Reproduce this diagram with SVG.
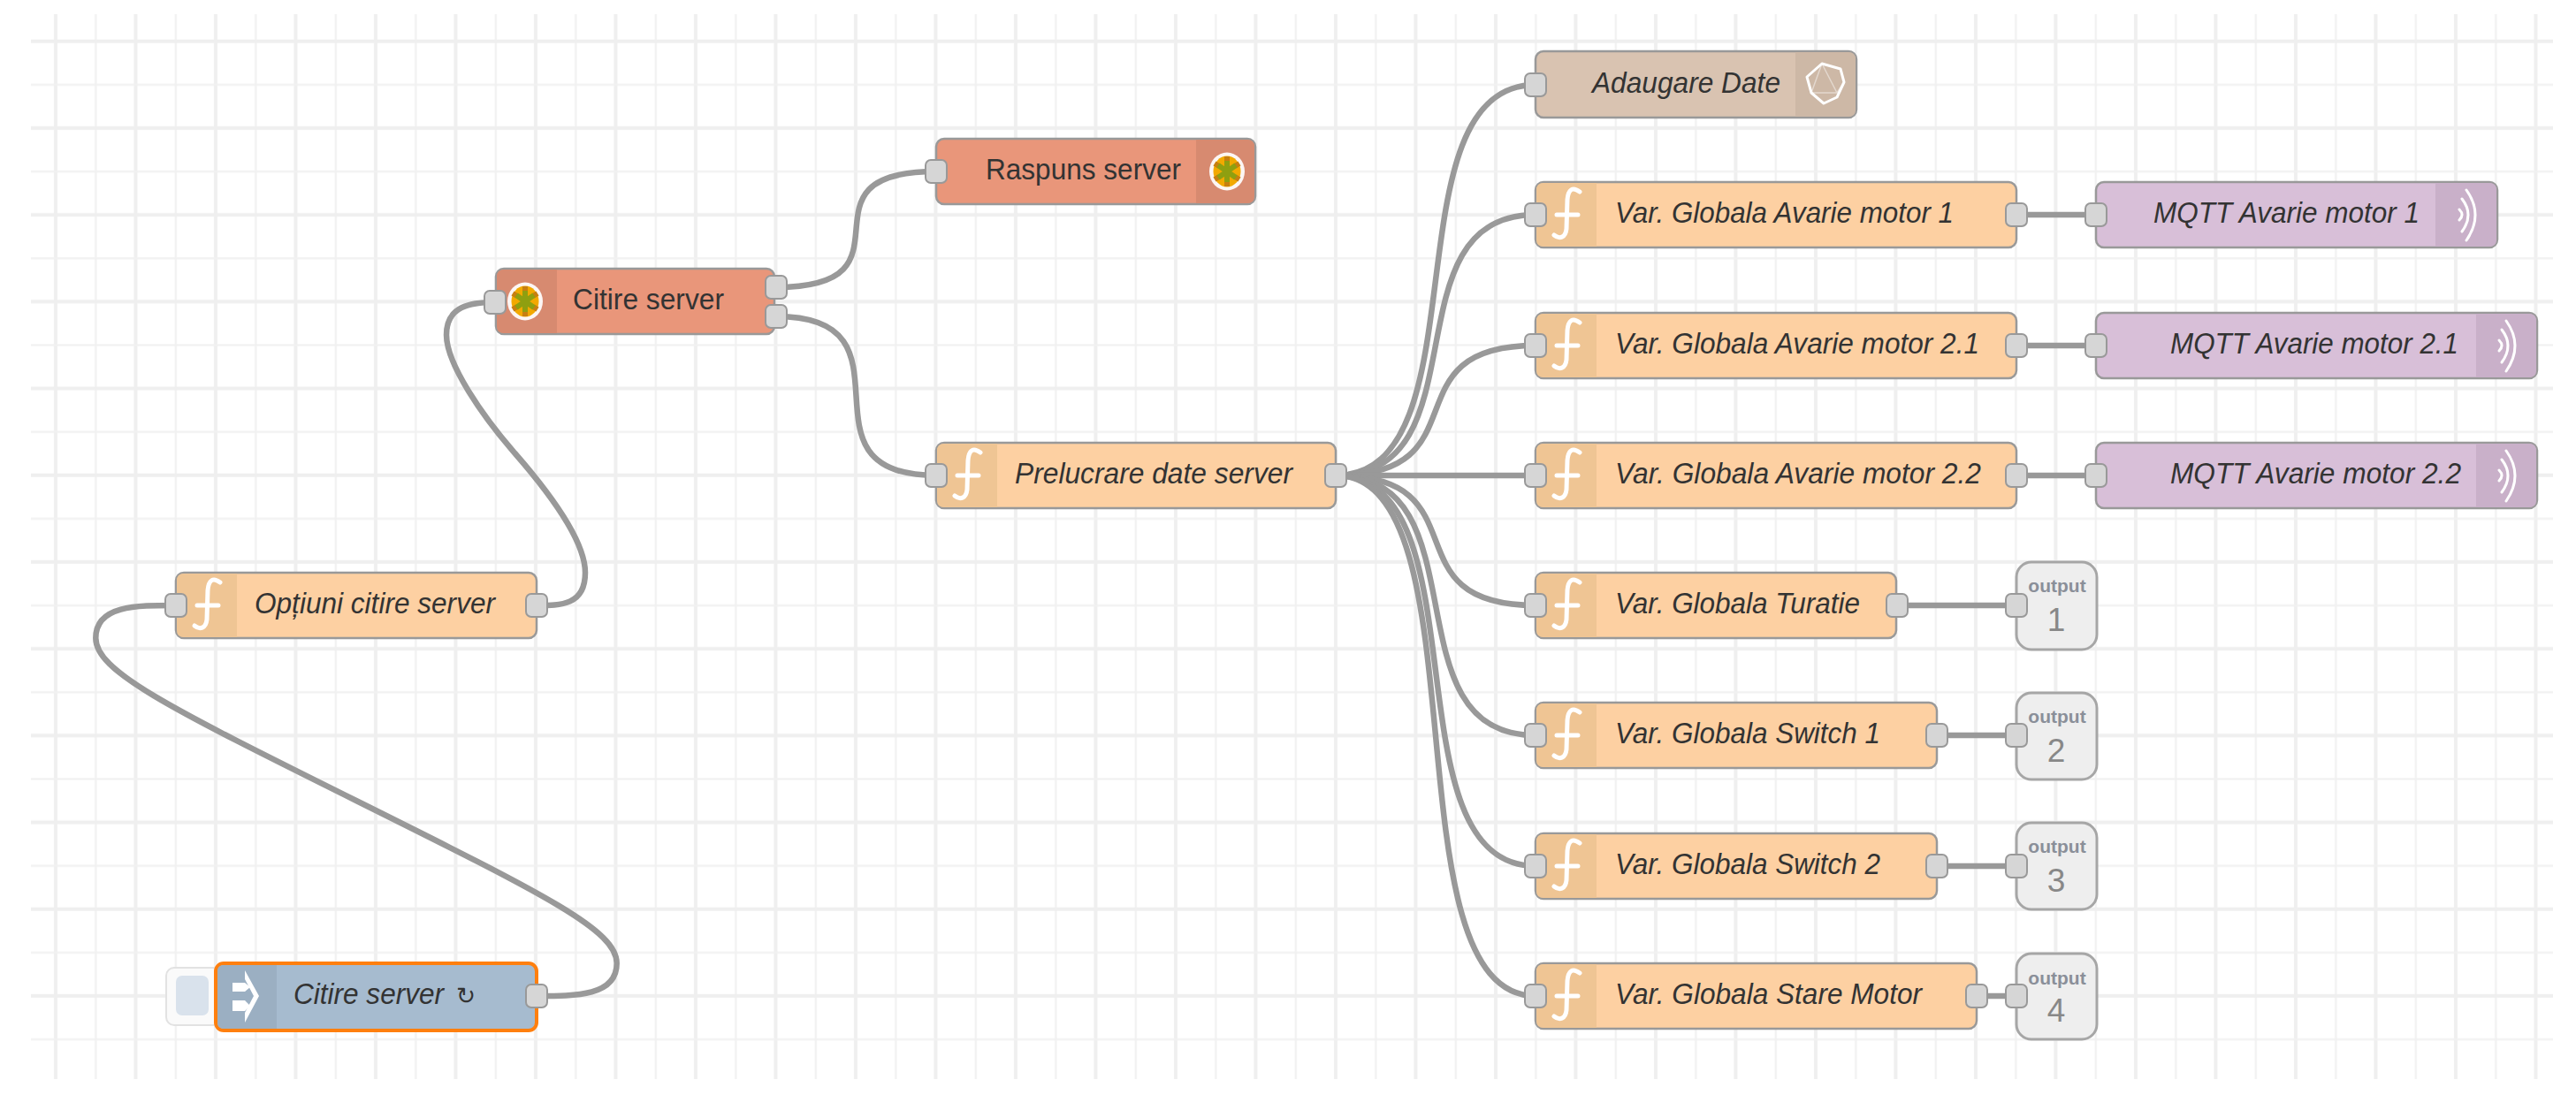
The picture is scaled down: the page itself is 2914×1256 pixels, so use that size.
<svg xmlns="http://www.w3.org/2000/svg" width="2914" height="1256" viewBox="0 0 2914 1256">
<style>
.n{stroke:#999;stroke-width:2.5}
.fn{fill:#fdd0a2}.http{fill:#e9967a}.db{fill:#d9c3b1}.mq{fill:#d8bfd8}.inj{fill:#a6bbcf}
.tab{stroke:none}
.p{fill:#d6d6d6;stroke:#999;stroke-width:2}
.w{fill:none;stroke:#999;stroke-width:6.5;stroke-linecap:round}
.t{font-family:"Liberation Sans",Arial,sans-serif;font-size:33px;fill:#333}
.i{font-style:italic}
.ol{font-family:"Liberation Sans",Arial,sans-serif;font-size:21px;font-weight:bold;fill:#8a8f99;text-anchor:middle}
.on{font-family:"Liberation Sans",Arial,sans-serif;font-size:37px;fill:#888;text-anchor:middle}
.out{fill:#eee;stroke:#a6a6a6;stroke-width:3}
.ic{fill:none;stroke:#fff;stroke-linecap:round;stroke-linejoin:round}
</style>
<defs>
<pattern id="grid" patternUnits="userSpaceOnUse" x="45" y="30" width="90.5" height="98.2">
<rect x="16" y="0" width="4" height="98.2" fill="#efefef"/>
<rect x="62.2" y="0" width="2.2" height="98.2" fill="#f1f1f1"/>
<rect x="0" y="14.7" width="90.5" height="4" fill="#efefef"/>
<rect x="0" y="64.8" width="90.5" height="2.2" fill="#f1f1f1"/>
</pattern>
<g id="fnIcon">
<path class="tab" fill="#efc594" d="M9,1H69V73H9Q1,73 1,65V9Q1,1 9,1Z"/>
<path class="ic" stroke-width="5" d="M50,11C42,5 37,8 36,20L35,53C34,63 27,65 21,60M24,37H48"/>
</g>
<g id="mqIcon">
<path class="ic" stroke-width="3" d="M0,-28Q20,0 0,29M-5,-18Q9,0 -5,19M-8,-6Q-2,0 -8,6"/>
</g>
<g id="httpIcon">
<ellipse rx="20" ry="21.5" fill="#fff" fill-opacity=".92"/>
<ellipse rx="15.5" ry="17.5" fill="#f2a900"/>
<path fill="none" stroke="#c77f10" stroke-width="6" d="M0,-17V-11M0,11V17M-14,-9L-9,-6M14,9L9,6M-14,9L-9,6M14,-9L9,-6"/>
<path fill="none" stroke="#8f9f10" stroke-width="6" d="M0,-12V12M-10,-7L10,7M-10,7L10,-7"/>
</g>
</defs>
<rect width="2914" height="1256" fill="#fff"/>
<rect x="35" y="16" width="2853" height="1205" fill="url(#grid)"/>

<g id="connectors">
<path class="w" d="M607,1127C652,1127 697.7,1127 697.7,1090S620,1014 403,906S108.3,759 108.3,722S153.6,685 199,685"/>
<path class="w" d="M607,685C634.5,685 662,685 662,648S620,556 583,513.5S505,412 505,379S532.5,342 560,342"/>
<path class="w" d="M878,325C1048,325 889,194 1059,194"/>
<path class="w" d="M878,358C1048,358 889,538 1059,538"/>
<path class="w" d="M1511,538C1681,538 1567,96 1737,96"/>
<path class="w" d="M1511,538C1681,538 1567,243 1737,243"/>
<path class="w" d="M1511,538C1681,538 1567,391 1737,391"/>
<path class="w" d="M1511,538H1737"/>
<path class="w" d="M1511,538C1681,538 1567,685 1737,685"/>
<path class="w" d="M1511,538C1681,538 1567,832 1737,832"/>
<path class="w" d="M1511,538C1681,538 1567,980 1737,980"/>
<path class="w" d="M1511,538C1681,538 1567,1127 1737,1127"/>
<path class="w" d="M2281,243H2371"/>
<path class="w" d="M2281,391H2371"/>
<path class="w" d="M2281,538H2371"/>
<path class="w" d="M2146,685H2281"/>
<path class="w" d="M2191,832H2281"/>
<path class="w" d="M2191,980H2281"/>
<path class="w" d="M2236,1127H2281"/>
</g>

<g id="inject-citire">
<rect x="188" y="1095" width="62" height="65" rx="9" fill="#fafafa" stroke="#e2e2e2" stroke-width="2"/>
<rect x="199" y="1104" width="37" height="45" rx="7" fill="#d9e2ec"/>
<rect x="244" y="1090" width="363" height="76" rx="9" class="inj" stroke="#ff7f0e" stroke-width="4"/>
<path class="tab" fill="#9bafc2" d="M253,1092H313V1164H253Q246,1164 246,1157V1099Q246,1092 253,1092Z"/>
<path fill="#fff" d="M263,1112H277V1122H263ZM263,1132H277V1144H263ZM277,1098L293,1127L277,1157V1146L287,1127L277,1108Z"/>
<path fill="#fff" d="M277,1112L283,1117L277,1122ZM277,1132L283,1138L277,1144Z"/>
<text class="t i" x="332" y="1136" textLength="170" lengthAdjust="spacingAndGlyphs">Citire server</text>
<text class="i" x="516" y="1136" font-family="'DejaVu Sans',sans-serif" font-size="27" fill="#333" textLength="22" lengthAdjust="spacingAndGlyphs">↻</text>
<rect class="p" x="595" y="1114" width="24" height="26" rx="6"/>
</g>

<g id="fn-optiuni">
<rect class="n fn" x="199" y="648" width="408" height="74" rx="9"/>
<use href="#fnIcon" transform="translate(199,648)"/>
<text class="t i" x="288" y="694" textLength="272" lengthAdjust="spacingAndGlyphs">Opțiuni citire server</text>
<rect class="p" x="187" y="672" width="24" height="26" rx="6"/>
<rect class="p" x="595" y="672" width="24" height="26" rx="6"/>
</g>

<g id="http-citire">
<rect class="n http" x="561" y="304" width="315" height="74" rx="9"/>
<path class="tab" fill="#d78a70" d="M570,305H630V377H570Q562,377 562,369V313Q562,305 570,305Z"/>
<use href="#httpIcon" x="594" y="341"/>
<text class="t" x="648" y="350" textLength="171" lengthAdjust="spacingAndGlyphs">Citire server</text>
<rect class="p" x="548" y="329" width="24" height="26" rx="6"/>
<rect class="p" x="866" y="312" width="24" height="26" rx="6"/>
<rect class="p" x="866" y="345" width="24" height="26" rx="6"/>
</g>

<g id="http-raspuns">
<rect class="n http" x="1059" y="157" width="361" height="74" rx="9"/>
<path class="tab" fill="#d78a70" d="M1353,158H1411Q1419,158 1419,166V222Q1419,230 1411,230H1353Z"/>
<use href="#httpIcon" x="1388" y="194"/>
<text class="t" x="1115" y="203" textLength="221" lengthAdjust="spacingAndGlyphs">Raspuns server</text>
<rect class="p" x="1047" y="181" width="24" height="26" rx="6"/>
</g>

<g id="fn-prelucrare">
<rect class="n fn" x="1059" y="501" width="452" height="74" rx="9"/>
<use href="#fnIcon" transform="translate(1059,501)"/>
<text class="t i" x="1148" y="547" textLength="314" lengthAdjust="spacingAndGlyphs">Prelucrare date server</text>
<rect class="p" x="1047" y="525" width="24" height="26" rx="6"/>
<rect class="p" x="1499" y="525" width="24" height="26" rx="6"/>
</g>

<g id="db-adaugare">
<rect class="n db" x="1737" y="58" width="363" height="75" rx="9"/>
<path class="tab" fill="#cdb8a6" d="M2031,59H2091Q2099,59 2099,67V124Q2099,132 2091,132H2031Z"/>
<path class="ic" stroke-width="3" d="M2061,72L2082,78L2086,93L2078,110L2063,117L2049,105L2044,87Z"/>
<path class="ic" stroke-width="1.5" opacity=".45" d="M2061,72L2049,105H2078L2061,72M2078,105L2086,93"/>
<text class="t i" x="1801" y="105" textLength="213" lengthAdjust="spacingAndGlyphs">Adaugare Date</text>
<rect class="p" x="1725" y="83" width="24" height="26" rx="6"/>
</g>

<g id="fn-var1">
<rect class="n fn" x="1737" y="206" width="544" height="74" rx="9"/>
<use href="#fnIcon" transform="translate(1737,206)"/>
<text class="t i" x="1827" y="252" textLength="383" lengthAdjust="spacingAndGlyphs">Var. Globala Avarie motor 1</text>
<rect class="p" x="1725" y="230" width="24" height="26" rx="6"/>
<rect class="p" x="2269" y="230" width="24" height="26" rx="6"/>
</g>
<g id="fn-var21">
<rect class="n fn" x="1737" y="354" width="544" height="74" rx="9"/>
<use href="#fnIcon" transform="translate(1737,354)"/>
<text class="t i" x="1827" y="400" textLength="412" lengthAdjust="spacingAndGlyphs">Var. Globala Avarie motor 2.1</text>
<rect class="p" x="1725" y="378" width="24" height="26" rx="6"/>
<rect class="p" x="2269" y="378" width="24" height="26" rx="6"/>
</g>
<g id="fn-var22">
<rect class="n fn" x="1737" y="501" width="544" height="74" rx="9"/>
<use href="#fnIcon" transform="translate(1737,501)"/>
<text class="t i" x="1827" y="547" textLength="414" lengthAdjust="spacingAndGlyphs">Var. Globala Avarie motor 2.2</text>
<rect class="p" x="1725" y="525" width="24" height="26" rx="6"/>
<rect class="p" x="2269" y="525" width="24" height="26" rx="6"/>
</g>
<g id="fn-turatie">
<rect class="n fn" x="1737" y="648" width="408" height="74" rx="9"/>
<use href="#fnIcon" transform="translate(1737,648)"/>
<text class="t i" x="1827" y="694" textLength="277" lengthAdjust="spacingAndGlyphs">Var. Globala Turatie</text>
<rect class="p" x="1725" y="672" width="24" height="26" rx="6"/>
<rect class="p" x="2134" y="672" width="24" height="26" rx="6"/>
</g>
<g id="fn-switch1">
<rect class="n fn" x="1737" y="795" width="454" height="74" rx="9"/>
<use href="#fnIcon" transform="translate(1737,795)"/>
<text class="t i" x="1827" y="841" textLength="300" lengthAdjust="spacingAndGlyphs">Var. Globala Switch 1</text>
<rect class="p" x="1725" y="819" width="24" height="26" rx="6"/>
<rect class="p" x="2179" y="819" width="24" height="26" rx="6"/>
</g>
<g id="fn-switch2">
<rect class="n fn" x="1737" y="943" width="454" height="74" rx="9"/>
<use href="#fnIcon" transform="translate(1737,943)"/>
<text class="t i" x="1827" y="989" textLength="300" lengthAdjust="spacingAndGlyphs">Var. Globala Switch 2</text>
<rect class="p" x="1725" y="967" width="24" height="26" rx="6"/>
<rect class="p" x="2179" y="967" width="24" height="26" rx="6"/>
</g>
<g id="fn-stare">
<rect class="n fn" x="1737" y="1090" width="499" height="74" rx="9"/>
<use href="#fnIcon" transform="translate(1737,1090)"/>
<text class="t i" x="1827" y="1136" textLength="347" lengthAdjust="spacingAndGlyphs">Var. Globala Stare Motor</text>
<rect class="p" x="1725" y="1114" width="24" height="26" rx="6"/>
<rect class="p" x="2224" y="1114" width="24" height="26" rx="6"/>
</g>

<g id="mqtt-1">
<rect class="n mq" x="2371" y="206" width="454" height="74" rx="9"/>
<path class="tab" fill="#c9b0c9" d="M2755,207H2816Q2824,207 2824,215V271Q2824,279 2816,279H2755Z"/>
<use href="#mqIcon" x="2790" y="243"/>
<text class="t i" x="2436" y="252" textLength="301" lengthAdjust="spacingAndGlyphs">MQTT Avarie motor 1</text>
<rect class="p" x="2359" y="230" width="24" height="26" rx="6"/>
</g>
<g id="mqtt-21">
<rect class="n mq" x="2371" y="354" width="499" height="74" rx="9"/>
<path class="tab" fill="#c9b0c9" d="M2801,355H2861Q2869,355 2869,363V419Q2869,427 2861,427H2801Z"/>
<use href="#mqIcon" x="2835" y="391"/>
<text class="t i" x="2455" y="400" textLength="326" lengthAdjust="spacingAndGlyphs">MQTT Avarie motor 2.1</text>
<rect class="p" x="2359" y="378" width="24" height="26" rx="6"/>
</g>
<g id="mqtt-22">
<rect class="n mq" x="2371" y="501" width="499" height="74" rx="9"/>
<path class="tab" fill="#c9b0c9" d="M2801,502H2861Q2869,502 2869,510V566Q2869,574 2861,574H2801Z"/>
<use href="#mqIcon" x="2835" y="538"/>
<text class="t i" x="2455" y="547" textLength="329" lengthAdjust="spacingAndGlyphs">MQTT Avarie motor 2.2</text>
<rect class="p" x="2359" y="525" width="24" height="26" rx="6"/>
</g>

<g id="output-1">
<rect class="out" x="2281" y="636" width="91" height="99" rx="17"/>
<text class="ol" x="2327" y="670">output</text><text class="on" x="2326" y="714">1</text>
<rect class="p" x="2269" y="672" width="24" height="26" rx="6"/>
</g>
<g id="output-2">
<rect class="out" x="2281" y="784" width="91" height="98" rx="17"/>
<text class="ol" x="2327" y="818">output</text><text class="on" x="2326" y="862">2</text>
<rect class="p" x="2269" y="819" width="24" height="26" rx="6"/>
</g>
<g id="output-3">
<rect class="out" x="2281" y="931" width="91" height="98" rx="17"/>
<text class="ol" x="2327" y="965">output</text><text class="on" x="2326" y="1009">3</text>
<rect class="p" x="2269" y="967" width="24" height="26" rx="6"/>
</g>
<g id="output-4">
<rect class="out" x="2281" y="1079" width="91" height="97" rx="17"/>
<text class="ol" x="2327" y="1114">output</text><text class="on" x="2326" y="1156">4</text>
<rect class="p" x="2269" y="1114" width="24" height="26" rx="6"/>
</g>
</svg>
